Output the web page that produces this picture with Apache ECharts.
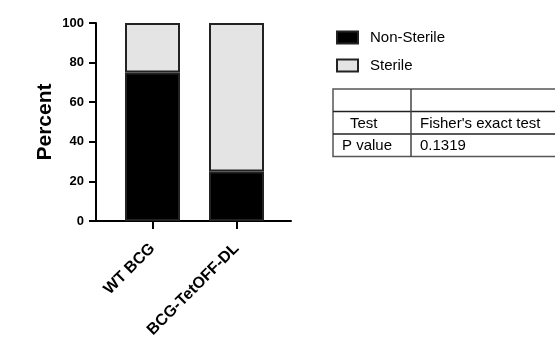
<!DOCTYPE html>
<html>
<head>
<meta charset="utf-8">
<script src="https://cdn.jsdelivr.net/npm/echarts@6/dist/echarts.min.js"></script>
<style>
  html, body { margin: 0; padding: 0; background: #fff; }
  #chart { width: 555px; height: 337px; }
</style>
</head>
<body>
<div id="chart"></div>
<script>
var categories = ['WT BCG', 'BCG-TetOFF-DL'];
var nonSterile = [75, 25];
var sterile = [25, 75];
var yTicks = [0, 20, 40, 60, 80, 100];
var tableRows = [['', ''], ['Test', "Fisher's exact test"], ['P value', '0.1319']];

var font = 'Arial, "Liberation Sans", sans-serif';
var myChart = echarts.init(document.getElementById('chart'));

// table next to the legend
var tbl = [];
var tx = 333, tw = 240, rowH = 22.5, ty = 89, colX = 411;
tbl.push({type: 'rect', shape: {x: tx, y: ty, width: tw, height: rowH * 3},
    style: {fill: 'none', stroke: '#555', lineWidth: 1.5}});
for (var r = 1; r < 3; r++) {
    tbl.push({type: 'line', shape: {x1: tx, y1: ty + rowH * r, x2: tx + tw, y2: ty + rowH * r},
        style: {stroke: '#222', lineWidth: 1.5}});
}
tbl.push({type: 'line', shape: {x1: colX, y1: ty, x2: colX, y2: ty + rowH * 3},
    style: {stroke: '#444', lineWidth: 1.5}});
var cellX = [[350, 420], [342, 420]];
for (var r = 1; r < 3; r++) {
    for (var c = 0; c < 2; c++) {
        tbl.push({type: 'text', x: cellX[r - 1][c], y: ty + rowH * r + rowH / 2 + 1,
            style: {text: tableRows[r][c], fill: '#000', font: '15px ' + font, verticalAlign: 'middle'}});
    }
}

var option = {
    animation: false,
    backgroundColor: '#fff',
    grid: [
        {left: 96, right: 264, top: 23, bottom: 116, outerBoundsMode: 'none'},
        {left: 110.5, width: 168, top: 23, bottom: 116, outerBoundsMode: 'none'}
    ],
    legend: {
        orient: 'vertical',
        left: 336, top: 30, padding: 0,
        itemWidth: 21, itemHeight: 12, itemGap: 13,
        icon: 'rect',
        data: ['Non-Sterile', 'Sterile'],
        textStyle: {fontFamily: font, fontSize: 15, color: '#000', padding: [0, 0, 0, 7]}
    },
    xAxis: [
        {
            gridIndex: 0, type: 'value', min: 0, max: 1,
            axisLine: {show: true, onZero: false, lineStyle: {color: '#000', width: 2}},
            axisTick: {show: false}, axisLabel: {show: false}, splitLine: {show: false}
        },
        {
            gridIndex: 1, type: 'category', data: categories,
            axisLine: {show: false},
            axisTick: {show: true, alignWithLabel: true, length: 8, lineStyle: {color: '#000', width: 2}},
            axisLabel: {rotate: 45, margin: 25, interval: 0, color: '#000',
                fontFamily: font, fontWeight: 'bold', fontSize: 16},
            splitLine: {show: false}
        }
    ],
    yAxis: [
        {
            gridIndex: 0, type: 'value', min: 0, max: 100, interval: 20,
            name: 'Percent', nameLocation: 'middle', nameGap: 40,
            nameTextStyle: {fontFamily: font, fontWeight: 'bold', fontSize: 21, color: '#000'},
            axisLine: {show: true, lineStyle: {color: '#000', width: 2}},
            axisTick: {show: true, length: 7, lineStyle: {color: '#000', width: 2}},
            axisLabel: {margin: 12, color: '#000', fontFamily: font, fontWeight: 'bold', fontSize: 13,
                formatter: function (v) { return yTicks.indexOf(v) >= 0 ? String(v) : ''; }},
            splitLine: {show: false}
        },
        {
            gridIndex: 1, type: 'value', min: 0, max: 100, show: false
        }
    ],
    series: [
        {
            name: 'Non-Sterile', type: 'bar', stack: 'a', xAxisIndex: 1, yAxisIndex: 1,
            barWidth: 55, data: nonSterile,
            itemStyle: {color: '#000', borderColor: '#222', borderWidth: 2}
        },
        {
            name: 'Sterile', type: 'bar', stack: 'a', xAxisIndex: 1, yAxisIndex: 1,
            barWidth: 55, data: sterile,
            itemStyle: {color: '#e4e4e4', borderColor: '#222', borderWidth: 2}
        }
    ],
    graphic: tbl
};

myChart.setOption(option);
</script>
</body>
</html>
